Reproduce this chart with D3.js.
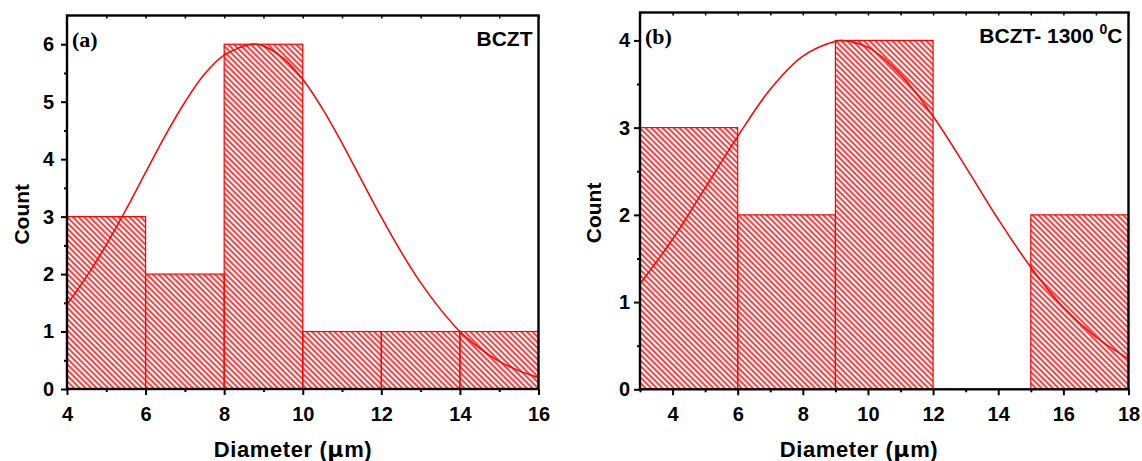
<!DOCTYPE html>
<html>
<head>
<meta charset="utf-8">
<script src="https://cdn.jsdelivr.net/npm/d3@7"></script>
<style>
  html, body { margin: 0; padding: 0; background: #fff; }
  svg { display: block; }
  .tick text { font-family: "Liberation Sans", Arial, sans-serif; font-weight: bold; font-size: 20px; fill: #000; }
</style>
</head>
<body>
<svg id="chart" width="1142" height="461"></svg>
<script>
// Histogram bin edges and counts, panel (a): BCZT
const edgesA = [4, 6, 8, 10, 12, 14, 16];
const countsA = [3, 2, 6, 1, 1, 1];
// Gaussian fit curve, panel (a)
const fitXA = [4, 4.5, 5, 5.5, 6, 6.5, 7, 7.5, 8, 8.7, 9, 9.5, 10, 10.5, 11, 11.5, 12, 12.5, 13, 13.5, 14, 14.5, 15, 15.5, 16];
const fitYA = [1.47, 1.96, 2.51, 3.12, 3.77, 4.41, 4.99, 5.48, 5.81, 6.0, 5.97, 5.76, 5.39, 4.88, 4.28, 3.63, 2.99, 2.39, 1.85, 1.39, 1.0, 0.71, 0.48, 0.32, 0.2];
const xTicksA = [4, 6, 8, 10, 12, 14, 16];
const yTicksA = [0, 1, 2, 3, 4, 5, 6];

// Histogram bin edges and counts, panel (b): BCZT sintered at 1300 °C
const edgesB = [3, 6, 9, 12, 15, 18];
const countsB = [3, 2, 4, 0, 2];
// Gaussian fit curve, panel (b)
const fitXB = [3, 4, 5, 6, 7, 8, 9, 9.2, 10, 11, 12, 13, 14, 15, 16, 17, 18];
const fitYB = [1.21, 1.72, 2.31, 2.90, 3.44, 3.82, 3.99, 4.0, 3.92, 3.61, 3.13, 2.55, 1.95, 1.40, 0.94, 0.60, 0.35];
const xTicksB = [4, 6, 8, 10, 12, 14, 16, 18];
const yTicksB = [0, 1, 2, 3, 4];

const svg = d3.select("#chart");
const RED = "#ff0000";

// diagonal hatch fill used by the bars
const defs = svg.append("defs");
defs.append("pattern")
  .attr("id", "hatch")
  .attr("patternUnits", "userSpaceOnUse")
  .attr("width", 4).attr("height", 4)
  .attr("patternTransform", "rotate(-45)")
  .append("line")
  .attr("x1", 2).attr("y1", 0).attr("x2", 2).attr("y2", 4)
  .attr("stroke", RED).attr("stroke-width", 1.5);

function panel(cfg) {
  const g = svg.append("g");
  const x = d3.scaleLinear().domain(cfg.xDomain).range([cfg.left, cfg.right]);
  const y = d3.scaleLinear().domain(cfg.yDomain).range([cfg.bottom, cfg.top]);

  const bins = cfg.counts.map((c, i) => ({ x0: cfg.edges[i], x1: cfg.edges[i + 1], c }));

  // hatched bars
  g.append("g").selectAll("rect")
    .data(bins.filter(d => d.c > 0))
    .join("rect")
    .attr("x", d => x(d.x0))
    .attr("y", d => y(d.c))
    .attr("width", d => x(d.x1) - x(d.x0))
    .attr("height", d => y(0) - y(d.c))
    .attr("fill", "url(#hatch)")
    .attr("stroke", RED)
    .attr("stroke-width", 1.2);

  // fitted distribution
  const line = d3.line()
    .x((d, i) => x(cfg.fitX[i]))
    .y(d => y(d))
    .curve(d3.curveCatmullRom);
  g.append("path")
    .attr("d", line(cfg.fitY))
    .attr("fill", "none")
    .attr("stroke", RED)
    .attr("stroke-width", 1.5);

  // bottom axis: labelled majors and minor ticks
  const minorX = d3.range(Math.ceil(cfg.xDomain[0]), cfg.xDomain[1] + 0.001, 1)
    .filter(v => !cfg.xTicks.includes(v));
  g.append("g")
    .attr("transform", `translate(0,${cfg.bottom})`)
    .call(d3.axisBottom(x).tickValues(cfg.xTicks).tickSize(6).tickPadding(12).tickFormat(d3.format("d")))
    .call(a => a.select(".domain").remove())
    .call(a => a.selectAll("line").attr("stroke", "#000").attr("stroke-width", 2));
  g.append("g")
    .attr("transform", `translate(0,${cfg.bottom})`)
    .call(d3.axisBottom(x).tickValues(minorX).tickSize(3).tickFormat(""))
    .call(a => a.select(".domain").remove())
    .call(a => a.selectAll("line").attr("stroke", "#000").attr("stroke-width", 2));

  // top axis: small inward ticks at every unit
  const topTicks = d3.range(Math.ceil(cfg.xDomain[0]), cfg.xDomain[1] + 0.001, 1);
  g.append("g")
    .attr("transform", `translate(0,${cfg.top})`)
    .call(d3.axisTop(x).tickValues(topTicks).tickSize(-3).tickFormat(""))
    .call(a => a.select(".domain").remove())
    .call(a => a.selectAll("line").attr("stroke", "#000").attr("stroke-width", 1.5));

  // left axis: labelled majors and half-unit minors
  const minorY = d3.range(0.5, cfg.yDomain[1], 1);
  g.append("g")
    .attr("transform", `translate(${cfg.left},0)`)
    .call(d3.axisLeft(y).tickValues(cfg.yTicks).tickSize(6).tickPadding(cfg.yPad).tickFormat(d3.format("d")))
    .call(a => a.select(".domain").remove())
    .call(a => a.selectAll("line").attr("stroke", "#000").attr("stroke-width", 2));
  g.append("g")
    .attr("transform", `translate(${cfg.left},0)`)
    .call(d3.axisLeft(y).tickValues(minorY).tickSize(3).tickFormat(""))
    .call(a => a.select(".domain").remove())
    .call(a => a.selectAll("line").attr("stroke", "#000").attr("stroke-width", 2));

  // frame
  g.append("rect")
    .attr("x", cfg.left).attr("y", cfg.top)
    .attr("width", cfg.right - cfg.left).attr("height", cfg.bottom - cfg.top)
    .attr("fill", "none").attr("stroke", "#000").attr("stroke-width", 2.4);

  // axis titles
  g.append("text")
    .attr("transform", `translate(${cfg.countX},${(cfg.top + cfg.bottom) / 2 + 12}) rotate(-90)`)
    .attr("text-anchor", "middle")
    .attr("font-family", "Liberation Sans, Arial, sans-serif")
    .attr("font-weight", "bold").attr("font-size", 21)
    .text("Count");

  const xt = g.append("text")
    .attr("x", cfg.diamX).attr("y", 457)
    .attr("text-anchor", "middle")
    .attr("font-family", "Liberation Sans, Arial, sans-serif")
    .attr("font-weight", "bold").attr("font-size", 22)
    .attr("letter-spacing", 0.6);
  xt.append("tspan").text("Diameter (");
  xt.append("tspan").attr("font-family", "DejaVu Sans, sans-serif").attr("font-weight", "bold").text("\u03bc");
  xt.append("tspan").text("m)");

  // panel letter
  g.append("text")
    .attr("x", cfg.left + 5).attr("y", cfg.top + 31)
    .attr("font-family", "Liberation Serif, Times New Roman, serif")
    .attr("font-weight", "bold").attr("font-size", 22)
    .text(cfg.letter);

  // sample label
  const lab = g.append("text")
    .attr("x", cfg.right - 6).attr("y", cfg.top + 30)
    .attr("text-anchor", "end")
    .attr("font-family", "Liberation Sans, Arial, sans-serif")
    .attr("font-weight", "bold").attr("font-size", 21);
  lab.append("tspan").text(cfg.label);
  if (cfg.labelSup) {
    lab.append("tspan").attr("font-size", 14).attr("dy", -9).text(cfg.labelSup);
    lab.append("tspan").attr("dy", 9).text(cfg.labelTail);
  }
}

panel({
  left: 67, right: 538.5, top: 15.5, bottom: 389,
  xDomain: [4, 16], yDomain: [0, 6.5],
  edges: edgesA, counts: countsA, fitX: fitXA, fitY: fitYA,
  xTicks: xTicksA, yTicks: yTicksA, yPad: 7,
  countX: 29, diamX: 293, letter: "(a)", label: "BCZT"
});

panel({
  left: 640, right: 1128.5, top: 12.5, bottom: 389.3,
  xDomain: [3, 18], yDomain: [0, 4.32],
  edges: edgesB, counts: countsB, fitX: fitXB, fitY: fitYB,
  xTicks: xTicksB, yTicks: yTicksB, yPad: 4,
  countX: 601, diamX: 859, letter: "(b)", label: "BCZT- 1300 ", labelSup: "0", labelTail: "C"
});
</script>
</body>
</html>
